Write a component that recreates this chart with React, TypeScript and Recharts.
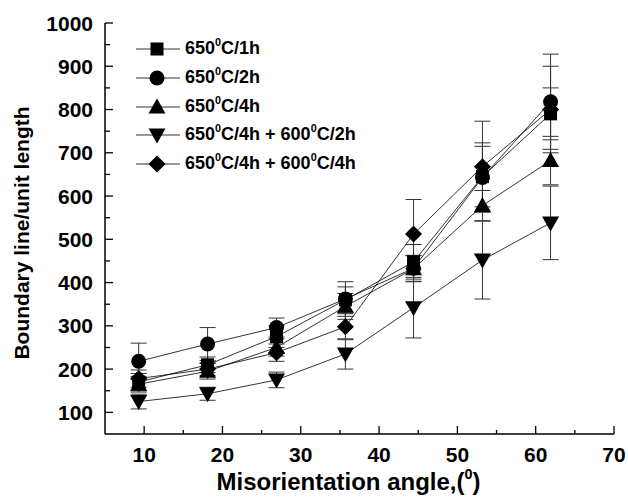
import React from 'react'
import { ComposedChart, Line, XAxis, YAxis, ErrorBar } from 'recharts'

// misorientation angle (deg)
const angles = [9.3, 18.1, 26.9, 35.7, 44.4, 53.2, 61.9]

// boundary line / unit length, one array per heat treatment
const t650_1h = [170, 210, 275, 360, 448, 645, 790]
const t650_2h = [218, 258, 296, 362, 433, 643, 818]
const t650_4h = [165, 195, 250, 345, 432, 578, 682]
const t650_4h_600_2h = [125, 143, 175, 235, 342, 452, 538]
const t650_4h_600_4h = [178, 200, 238, 298, 512, 668, 800]

// error bar half widths
const err650_1h = [20, 18, 25, 30, 40, 70, 60]
const err650_2h = [42, 38, 22, 40, 30, 80, 110]
const err650_4h = [18, 18, 20, 30, 30, 35, 56]
const err650_4h_600_2h = [17, 15, 18, 35, 70, 90, 85]
const err650_4h_600_4h = [20, 15, 20, 30, 80, 105, 100]

const seriesNames = ['650^0C/1h', '650^0C/2h', '650^0C/4h', '650^0C/4h + 600^0C/2h', '650^0C/4h + 600^0C/4h']
const seriesShapes = ['square', 'circle', 'triangle', 'down', 'diamond']
const seriesValues = [t650_1h, t650_2h, t650_4h, t650_4h_600_2h, t650_4h_600_4h]
const seriesErrors = [err650_1h, err650_2h, err650_4h, err650_4h_600_2h, err650_4h_600_4h]

const xTicks = [10, 15, 20, 25, 30, 35, 40, 45, 50, 55, 60, 65, 70]
const yTicks = [100, 150, 200, 250, 300, 350, 400, 450, 500, 550, 600, 650, 700, 750, 800, 850, 900, 950, 1000]

const data = angles.map((x, i) => {
  const row: Record<string, number> = { x }
  seriesValues.forEach((vals, s) => {
    row['s' + s] = vals[i]
    row['e' + s] = seriesErrors[s][i]
  })
  return row
})

const FONT = '"Liberation Sans", Arial, sans-serif'
const X_MARGIN = 13
const Y_MARGIN = 12

function Marker({ shape, cx, cy }: { shape: string; cx: number; cy: number }) {
  if (cx == null || cy == null) return null
  switch (shape) {
    case 'square':
      return <rect x={cx - 6.5} y={cy - 6.5} width={13} height={13} fill="#000" />
    case 'circle':
      return <circle cx={cx} cy={cy} r={7.5} fill="#000" />
    case 'triangle':
      return <polygon points={`${cx},${cy - 8.5} ${cx + 8.5},${cy + 6.5} ${cx - 8.5},${cy + 6.5}`} fill="#000" />
    case 'down':
      return <polygon points={`${cx - 8.5},${cy - 6.5} ${cx + 8.5},${cy - 6.5} ${cx},${cy + 8.5}`} fill="#000" />
    default:
      return <polygon points={`${cx},${cy - 8.5} ${cx + 8.5},${cy} ${cx},${cy + 8.5} ${cx - 8.5},${cy}`} fill="#000" />
  }
}

function withSup(text: string) {
  const parts = text.split('^0')
  return parts.map((p, i) => (
    <React.Fragment key={i}>
      {i > 0 && <span style={{ fontSize: '0.6em', position: 'relative', top: '-0.75em' }}>0</span>}
      {p}
    </React.Fragment>
  ))
}

const XTick = (props: any) => {
  const { x, y, payload } = props
  const v = payload.value
  const major = v % 10 === 0
  const axisY = y - X_MARGIN
  return (
    <g>
      <line x1={x} x2={x} y1={axisY} y2={axisY - (major ? 8 : 4)} stroke="#000" strokeWidth={1.3} />
      {major && (
        <text x={x} y={y} dy="0.71em" textAnchor="middle" fontFamily={FONT} fontWeight="bold" fontSize={21} fill="#000">
          {v}
        </text>
      )}
    </g>
  )
}

const YTick = (props: any) => {
  const { x, y, payload } = props
  const v = payload.value
  const major = v % 100 === 0
  const axisX = x + Y_MARGIN
  return (
    <g>
      <line x1={axisX} x2={axisX + (major ? 8 : 5)} y1={y} y2={y} stroke="#000" strokeWidth={1.3} />
      {major && (
        <text x={x} y={y} dy="0.36em" textAnchor="end" fontFamily={FONT} fontWeight="bold" fontSize={21} fill="#000">
          {v}
        </text>
      )}
    </g>
  )
}

export default function App() {
  return (
    <div style={{ position: 'absolute', left: 0, top: 0, width: 628, height: 504, background: '#fff', fontFamily: FONT }}>
      <ComposedChart width={628} height={504} data={data} margin={{ top: 23, right: 14, bottom: 0, left: 0 }}>
        <XAxis
          dataKey="x"
          type="number"
          domain={[5, 70]}
          ticks={xTicks}
          interval={0}
          height={70}
          tickSize={0}
          tickLine={false}
          tickMargin={X_MARGIN}
          tick={<XTick />}
          axisLine={{ stroke: '#000', strokeWidth: 1.5 }}
        />
        <XAxis xAxisId="top" dataKey="x" type="number" domain={[5, 70]} orientation="top" height={0} tick={false} tickLine={false} axisLine={{ stroke: '#000', strokeWidth: 1.5 }} />
        <YAxis
          type="number"
          domain={[50, 1000]}
          ticks={yTicks}
          interval={0}
          width={105}
          tickSize={0}
          tickLine={false}
          tickMargin={Y_MARGIN}
          tick={<YTick />}
          axisLine={{ stroke: '#000', strokeWidth: 1.5 }}
        />
        <YAxis yAxisId="right" type="number" domain={[50, 1000]} orientation="right" width={0} tick={false} tickLine={false} axisLine={{ stroke: '#000', strokeWidth: 1.5 }} />
        {seriesNames.map((name, s) => (
          <Line
            key={name}
            dataKey={'s' + s}
            name={name}
            stroke="#000"
            strokeWidth={0.8}
            isAnimationActive={false}
            dot={(p: any) => <Marker key={`${s}-${p.index}`} shape={seriesShapes[s]} cx={p.cx} cy={p.cy} />}
            activeDot={false}
          >
            <ErrorBar dataKey={'e' + s} direction="y" width={8} stroke="#333" strokeWidth={1} isAnimationActive={false} />
          </Line>
        ))}
      </ComposedChart>

      {/* legend */}
      <div style={{ position: 'absolute', left: 134, top: 35 }}>
        {seriesNames.map((name, s) => (
          <div key={name} style={{ height: 28.7, display: 'flex', alignItems: 'center' }}>
            <svg width={48} height={20}>
              <line x1={2} x2={46} y1={10} y2={10} stroke="#000" strokeWidth={0.8} />
              <Marker shape={seriesShapes[s]} cx={23} cy={10} />
            </svg>
            <span style={{ fontSize: 18, fontWeight: 'bold', marginLeft: 3, lineHeight: '20px' }}>{withSup(name)}</span>
          </div>
        ))}
      </div>

      {/* axis titles */}
      <div style={{ position: 'absolute', left: 94, width: 509, top: 468, textAlign: 'center', fontSize: 24, fontWeight: 'bold', lineHeight: '28px' }}>
        Misorientation angle,({withSup('^0').slice(1)})
      </div>
      <div
        style={{
          position: 'absolute',
          left: 22 - 200,
          top: 233 - 13,
          width: 400,
          height: 26,
          lineHeight: '26px',
          textAlign: 'center',
          fontSize: 21,
          fontWeight: 'bold',
          transform: 'rotate(-90deg)',
        }}
      >
        Boundary line/unit length
      </div>
    </div>
  )
}
